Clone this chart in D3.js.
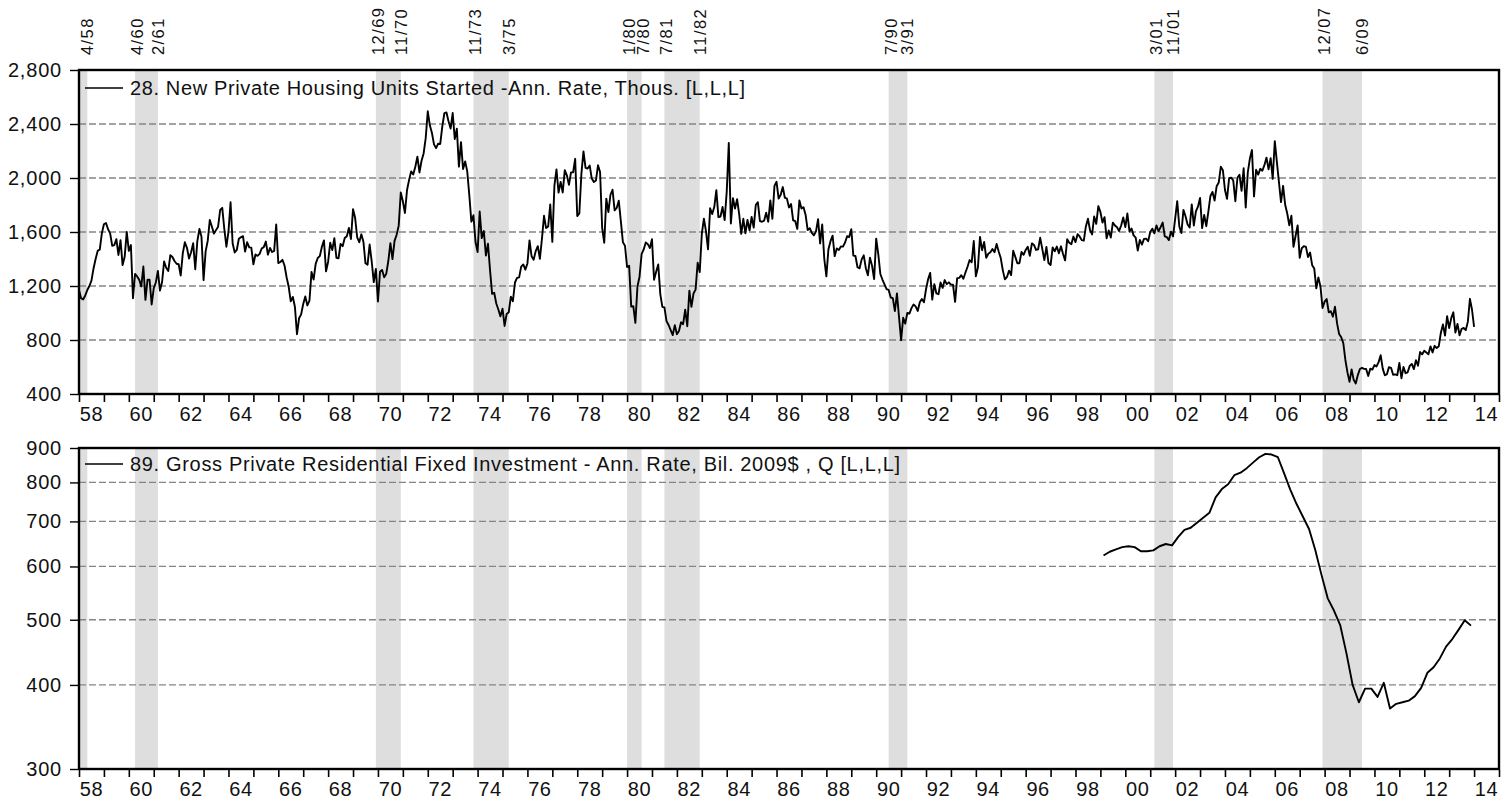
<!DOCTYPE html>
<html>
<head>
<meta charset="utf-8">
<script src="https://cdn.jsdelivr.net/npm/d3@7"></script>
<style>
  body { margin: 0; background: #fff; }
  svg text { font-family: Arial, "Liberation Sans", sans-serif; fill: #111; }
</style>
</head>
<body>
<div id="wrapper"></div>
<script>
// monthly, Jan 1958 .. Jan 2014
const startsFirstYear = 1958;
const housingStarts = [
  1170,1110,1100,1130,1170,1200,1240,1330,1400,1460,1470,1590, // 58
  1657,1667,1620,1590,1498,1503,1547,1430,1540,1355,1416,1601,
  1460,1503,1109,1289,1271,1247,1197,1344,1097,1246,1246,1063, // 60
  1183,1226,1312,1166,1228,1382,1335,1312,1429,1415,1385,1365,
  1361,1278,1443,1524,1483,1404,1450,1517,1324,1533,1622,1564,
  1244,1456,1534,1689,1641,1588,1614,1639,1763,1779,1622,1491,
  1603,1820,1517,1448,1467,1550,1562,1569,1455,1524,1486,1484,
  1361,1433,1423,1438,1478,1488,1529,1432,1482,1452,1460,1656, // 65
  1370,1378,1394,1352,1265,1194,1086,1119,1046,843,961,990,
  1067,1123,1056,1091,1304,1248,1364,1407,1421,1491,1538,1308,
  1380,1520,1466,1554,1408,1405,1512,1495,1556,1569,1630,1548,
  1769,1705,1561,1524,1583,1528,1368,1358,1507,1381,1229,1327,
  1085,1305,1319,1264,1290,1385,1517,1399,1534,1580,1647,1893, // 70
  1828,1741,1910,1986,2049,2026,2083,2158,2041,2128,2182,2295,
  2494,2390,2334,2249,2221,2254,2252,2382,2481,2485,2421,2366,
  2481,2289,2365,2084,2266,2067,2123,2051,1874,1677,1724,1526,
  1451,1752,1555,1607,1426,1513,1316,1142,1150,1070,1026,975,
  1032,904,993,1005,1121,1087,1226,1260,1264,1344,1360,1321, // 75
  1367,1538,1421,1395,1459,1495,1401,1550,1720,1629,1641,1804,
  1527,1943,2063,1892,1971,1893,2058,2020,1949,2042,2042,2142,
  1718,1738,2032,2197,2075,2070,2092,1996,1970,1981,2094,2044,
  1630,1520,1847,1748,1876,1913,1760,1778,1832,1681,1524,1498,
  1341,1350,1047,1051,927,1196,1269,1436,1471,1523,1510,1482, // 80
  1547,1246,1306,1360,1140,1045,1041,940,911,873,837,910,
  843,866,931,917,1025,902,1166,1046,1144,1173,1372,1303,
  1586,1699,1606,1472,1776,1733,1785,1910,1710,1715,1785,1688,
  1897,2260,1663,1851,1774,1843,1732,1586,1698,1590,1689,1612,
  1711,1632,1800,1821,1680,1676,1684,1743,1676,1834,1698,1942, // 85
  1972,1848,1876,1933,1854,1847,1782,1807,1687,1681,1623,1833,
  1774,1784,1726,1614,1628,1594,1575,1605,1695,1515,1656,1400,
  1271,1473,1532,1573,1421,1478,1467,1493,1492,1522,1569,1563,
  1621,1425,1422,1339,1331,1397,1427,1332,1279,1410,1351,1251,
  1551,1437,1289,1248,1212,1177,1171,1115,1110,1014,1145,969, // 90
  798,965,921,1001,996,1036,1063,1049,1015,1079,1103,1079,
  1176,1250,1297,1099,1214,1145,1139,1226,1186,1244,1214,1227,
  1210,1210,1083,1258,1260,1280,1254,1300,1343,1392,1376,1533,
  1272,1337,1564,1465,1526,1409,1439,1450,1474,1450,1511,1455,
  1407,1316,1249,1267,1314,1281,1461,1416,1369,1369,1452,1431, // 95
  1467,1491,1424,1516,1504,1467,1472,1557,1475,1392,1489,1370,
  1355,1486,1457,1492,1442,1494,1437,1390,1546,1520,1510,1566,
  1525,1584,1567,1540,1536,1641,1698,1614,1582,1715,1660,1792,
  1748,1670,1710,1553,1611,1559,1669,1648,1635,1608,1648,1708,
  1636,1737,1604,1626,1575,1559,1463,1541,1507,1549,1551,1532, // 00
  1600,1625,1590,1649,1605,1636,1670,1567,1562,1540,1602,1568,
  1698,1829,1642,1592,1764,1717,1655,1633,1804,1648,1753,1788,
  1853,1629,1726,1643,1751,1867,1897,1833,1939,1967,2083,2057,
  1911,1846,1998,2003,1981,1828,2002,2024,1905,2072,1782,2042,
  2144,2207,1864,2061,2025,2068,2054,2095,2151,2065,2147,1994, // 05
  2273,2119,1969,1821,1942,1802,1737,1650,1720,1491,1570,1649,
  1409,1480,1495,1490,1415,1448,1354,1330,1183,1264,1197,1037,
  1084,1103,1005,1013,973,1046,923,844,820,777,652,560,
  490,582,505,478,540,585,594,586,585,534,588,581,
  614,604,636,687,588,539,546,599,594,543,545,539, // 10
  630,517,600,554,561,608,623,585,650,610,711,694,
  720,708,694,753,708,757,740,754,854,915,833,976,
  888,962,1005,855,919,835,883,889,873,936,1105,1024,
  897
];

// quarterly, 1999Q1 .. 2013Q4
const investFirstYear = 1999;
const residentialInvestment = [
  623,631,636,641, 643,641,632,632, 634,643,648,645,
  664,680,685,697, 709,721,760,782, 795,820,827,840,
  856,872,882,880, 872,825,780,743, 712,682,635,583,
  538,516,491,446, 400,377,395,395, 384,403,369,375,
  377,379,385,396, 417,425,438,456, 468,483,499,490
];

// peak, trough (m/yy)
const recessions = [
  [null, "4/58"], ["4/60", "2/61"], ["12/69", "11/70"], ["11/73", "3/75"],
  ["1/80", "7/80"], ["7/81", "11/82"], ["7/90", "3/91"], ["3/01", "11/01"],
  ["12/07", "6/09"]
];

const startsTicks = [400, 800, 1200, 1600, 2000, 2400, 2800];
const investTicks = [300, 400, 500, 600, 700, 800, 900];
const startsLegend = "28. New Private Housing Units Started -Ann. Rate, Thous. [L,L,L]";
const investLegend = "89. Gross Private Residential Fixed Investment - Ann. Rate, Bil. 2009$ , Q [L,L,L]";

const dimensions = {
  width: 1512,
  height: 810,
  left: 79,
  right: 1499
};

const panels = [
  { top: 70, bottom: 394, ticks: startsTicks, legend: startsLegend, legendWidth: 615,
    values: housingStarts, dateOf: i => startsFirstYear + i / 12, log: false, legendDy: 18 },
  { top: 448, bottom: 769, ticks: investTicks, legend: investLegend, legendWidth: 770,
    values: residentialInvestment, dateOf: i => investFirstYear + (i + 0.5) / 4, log: true, legendDy: 16 }
];

function parseDate(s) {
  const [m, yy] = s.split("/").map(Number);
  const year = yy < 50 ? 2000 + yy : 1900 + yy;
  return year + (m - 1) / 12;
}

const xScale = d3.scaleLinear()
  .domain([1958, 2015])
  .range([dimensions.left, dimensions.right]);

const shades = recessions.map(([p, t]) => ({
  peak: p, trough: t,
  from: p ? parseDate(p) : 1958,
  to: parseDate(t) + 1 / 12
}));

const wrapper = d3.select("#wrapper")
  .append("svg")
  .attr("width", dimensions.width)
  .attr("height", dimensions.height);

panels.forEach(panel => {
  const yScale = (panel.log ? d3.scaleLog() : d3.scaleLinear())
    .domain(d3.extent(panel.ticks))
    .range([panel.bottom, panel.top]);

  const g = wrapper.append("g");

  // recession bars
  g.selectAll("rect.shade")
    .data(shades)
    .enter()
    .append("rect")
    .attr("x", d => xScale(d.from))
    .attr("width", d => xScale(d.to) - xScale(d.from))
    .attr("y", panel.top)
    .attr("height", panel.bottom - panel.top)
    .attr("fill", "#dedede");

  // grid
  g.selectAll("line.grid")
    .data(panel.ticks.slice(1, -1))
    .enter()
    .append("line")
    .attr("x1", dimensions.left)
    .attr("x2", dimensions.right)
    .attr("y1", d => yScale(d))
    .attr("y2", d => yScale(d))
    .attr("stroke", "#858585")
    .attr("stroke-width", 1.3)
    .attr("stroke-dasharray", "7,3");

  // series
  const line = d3.line()
    .x((d, i) => xScale(panel.dateOf(i)))
    .y(d => yScale(d));

  g.append("path")
    .datum(panel.values)
    .attr("d", line)
    .attr("fill", "none")
    .attr("stroke", "#000")
    .attr("stroke-width", 1.9)
    .attr("stroke-linejoin", "round");

  // legend
  g.append("line")
    .attr("x1", dimensions.left + 6)
    .attr("x2", dimensions.left + 44)
    .attr("y1", panel.top + panel.legendDy)
    .attr("y2", panel.top + panel.legendDy)
    .attr("stroke", "#000")
    .attr("stroke-width", 1.6);

  g.append("text")
    .attr("x", dimensions.left + 51)
    .attr("y", panel.top + panel.legendDy + 6.5)
    .attr("textLength", panel.legendWidth)
    .attr("lengthAdjust", "spacing")
    .style("font-size", "20px")
    .text(panel.legend);

  // y axis
  const yAxis = g.append("g")
    .attr("transform", `translate(${dimensions.left - 1},0)`)
    .call(d3.axisLeft(yScale)
      .tickValues(panel.ticks)
      .tickSize(8)
      .tickPadding(8)
      .tickFormat(panel.log ? d3.format("d") : d3.format(",")));
  yAxis.select(".domain").remove();
  yAxis.selectAll("line").attr("stroke-width", 1.4);
  yAxis.selectAll("text")
    .style("font-size", "20px")
    .style("letter-spacing", "0.8px")
    .attr("fill", "#111");

  // x axis
  const years = d3.range(1958, 2016);
  const xAxis = g.append("g")
    .attr("transform", `translate(0,${panel.bottom + 1})`)
    .call(d3.axisBottom(xScale)
      .tickValues(years)
      .tickSize(7)
      .tickFormat(""));
  xAxis.select(".domain").remove();
  xAxis.selectAll("line").attr("stroke-width", 1.6);

  g.selectAll("text.year")
    .data(years.filter(y => y % 2 === 0 && y < 2015))
    .enter()
    .append("text")
    .attr("x", d => xScale(d + 0.5))
    .attr("y", panel.bottom + 27)
    .attr("text-anchor", "middle")
    .style("font-size", "20px")
    .style("letter-spacing", "0.6px")
    .text(d => d3.format("02")(d % 100));

  // frame
  g.append("rect")
    .attr("x", dimensions.left)
    .attr("y", panel.top)
    .attr("width", dimensions.right - dimensions.left)
    .attr("height", panel.bottom - panel.top)
    .attr("fill", "none")
    .attr("stroke", "#000")
    .attr("stroke-width", 2.4);
});

// peak / trough dates above the top panel
const labels = [];
shades.forEach(d => {
  if (d.peak) labels.push({ text: d.peak, x: xScale(d.from) + 2 });
  labels.push({ text: d.trough, x: xScale(d.to) });
});
for (let i = 1; i < labels.length; i++) {
  if (labels[i].x - labels[i - 1].x < 14) labels[i].x = labels[i - 1].x + 14;
}

wrapper.selectAll("text.date")
  .data(labels)
  .enter()
  .append("text")
  .attr("transform", d => `translate(${d.x},55) rotate(-90)`)
  .attr("dy", "0.36em")
  .style("font-size", "16.5px")
  .style("letter-spacing", "1.4px")
  .text(d => d.text);
</script>
</body>
</html>
